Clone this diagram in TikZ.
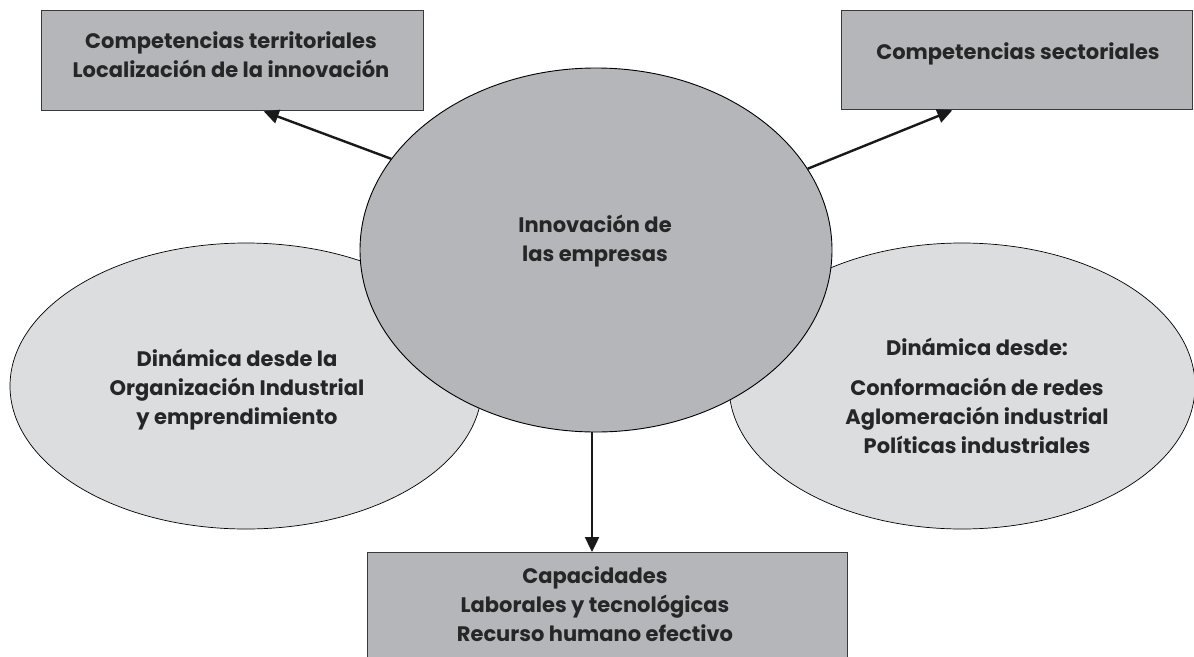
\documentclass[tikz,border=0pt]{standalone}
\usepackage{fontspec}
\setmainfont{Poppins}
\usetikzlibrary{shapes.geometric,arrows.meta,calc}
\definecolor{boxgray}{HTML}{B5B6BA}
\definecolor{lightgray}{HTML}{DCDDDF}
\definecolor{bordergray}{HTML}{3A3A3C}
\begin{document}
\begin{tikzpicture}[x=1pt,y=-1pt,
  box/.style={draw=bordergray,line width=1.3pt,fill=boxgray,inner sep=0pt,anchor=north west},
  side/.style={ellipse,draw=black,line width=0.7pt,fill=lightgray,inner sep=0pt},
  mid/.style={ellipse,draw=black,line width=0.9pt,fill=boxgray,inner sep=0pt},
  txt/.style={font=\fontsize{21}{29}\selectfont\bfseries,text=black!85,align=center,inner sep=0pt},
  arr/.style={line width=2.4pt,draw=black!90,-{Triangle[length=15pt,width=14pt]}}]
\useasboundingbox (0,0) rectangle (1194,656);
\clip (0,0) rectangle (1194,656);
% boxes
\node[box,minimum width=382pt,minimum height=100pt] (tl) at (41,10) {};
\node[box,minimum width=351pt,minimum height=99pt] (tr) at (841,10) {};
\node[box,minimum width=480pt,minimum height=130pt] (bt) at (367,552) {};
% ellipses
\node[side,minimum width=472pt,minimum height=286pt] (le) at (246,386) {};
\node[side,minimum width=466pt,minimum height=286pt] (re) at (962,386) {};
\node[mid,minimum width=472pt,minimum height=364pt] (c) at (596,250) {};
% texts
\node[txt] (tltxt) at (231,55) {Competencias territoriales\\Localización de la innovación};
\node[txt] (trtxt) at (1018,54) {Competencias sectoriales};
\node[txt] (ctxt) at (595,241) {Innovación de\\las empresas};
\node[txt] (letxt) at (237,390) {Dinámica desde la\\Organización Industrial\\y emprendimiento};
\node[txt] (retxt1) at (977,347) {Dinámica desde:};
\node[txt] (retxt2) at (977,416) {Conformación de redes\\Aglomeración industrial\\Políticas industriales};
\node[txt] (bttxt) at (595,604) {Capacidades\\Laborales y tecnológicas\\Recurso humano efectivo};
% connectors
\coordinate (tlend) at ($(tl.south west)!0.581!(tl.south east)$);
\coordinate (trend) at ($(tr.south west)!0.316!(tr.south east)$);
\coordinate (cbot) at ($(c.south)+(-4,0)$);
\draw[arr] (c.156) -- (tlend);
\draw[arr] (c.21) -- (trend);
\draw[arr] (cbot) -- (cbot |- bt.north);
\end{tikzpicture}
\end{document}
